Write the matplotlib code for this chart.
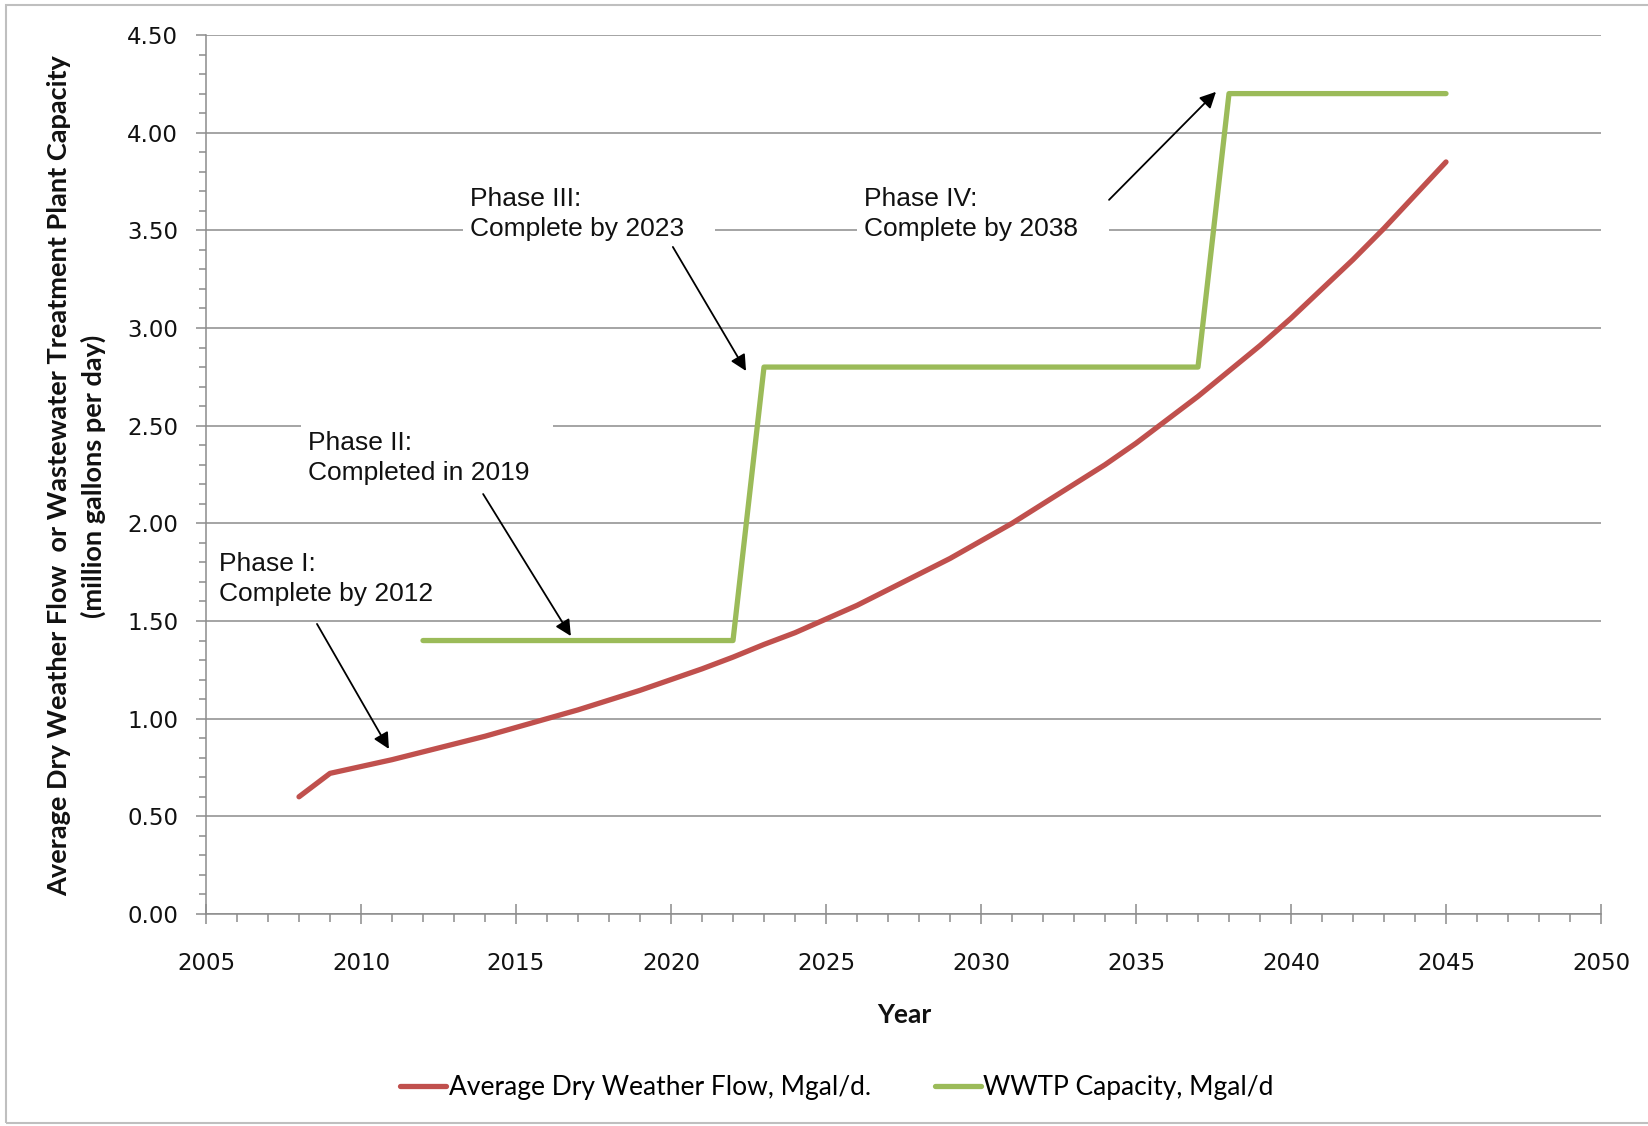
import matplotlib
matplotlib.use("Agg")
import matplotlib.pyplot as plt
from matplotlib.patches import Rectangle
from matplotlib.ticker import MultipleLocator, FormatStrFormatter

# average dry weather flow, one value per year (Mgal/d)
flow_years = list(range(2008, 2046))
flow_values = [0.60, 0.72, 0.755, 0.79, 0.83, 0.87, 0.91, 0.955, 1.00, 1.045,
               1.095, 1.145, 1.20, 1.255, 1.315, 1.38, 1.44, 1.51, 1.58, 1.66,
               1.74, 1.82, 1.91, 2.00, 2.10, 2.20, 2.30, 2.41, 2.53, 2.65,
               2.78, 2.91, 3.05, 3.20, 3.35, 3.51, 3.68, 3.85]

# plant capacity steps
cap_years = [2012, 2022, 2023, 2037, 2038, 2045]
cap_values = [1.40, 1.40, 2.80, 2.80, 4.20, 4.20]

phase_labels = ["Phase I:\nComplete by 2012",
                "Phase II:\nCompleted in 2019",
                "Phase III:\nComplete by 2023",
                "Phase IV:\nComplete by 2038"]
label_xy = [(2005.42, 1.715), (2008.29, 2.335), (2013.52, 3.584), (2026.23, 3.584)]
arrow_from = [(2008.58, 1.485), (2013.94, 2.15), (2020.06, 3.415), (2034.13, 3.656)]
arrow_to = [(2010.9, 0.845), (2016.77, 1.423), (2022.42, 2.78), (2037.58, 4.209)]

RED = "#C0504D"
GREEN = "#9BBB59"
GRID = "#8C8C8C"

W, H = 1648, 1126
fig = plt.figure(figsize=(W / 100, H / 100), dpi=100)
ax = fig.add_axes([206 / W, 1 - 914 / H, (1601 - 206) / W, (914 - 35) / H])

ax.plot(flow_years, flow_values, color=RED, lw=3.8, solid_capstyle="round",
        solid_joinstyle="round", label="Average Dry Weather Flow, Mgal/d.", zorder=3)
ax.plot(cap_years, cap_values, color=GREEN, lw=3.8, solid_capstyle="round",
        label="WWTP Capacity, Mgal/d", zorder=3)

ax.set_xlim(2005, 2050)
ax.set_ylim(0, 4.5)
ax.xaxis.set_major_locator(MultipleLocator(5))
ax.xaxis.set_minor_locator(MultipleLocator(1))
ax.yaxis.set_major_locator(MultipleLocator(0.5))
ax.yaxis.set_minor_locator(MultipleLocator(0.1))
ax.yaxis.set_major_formatter(FormatStrFormatter("%.2f"))

ax.set_axisbelow(True)
ax.grid(axis="y", which="major", color=GRID, lw=1.1)
for s in ["top", "right"]:
    ax.spines[s].set_visible(False)
for s in ["left", "bottom"]:
    ax.spines[s].set_color(GRID)
    ax.spines[s].set_linewidth(1.1)

ax.tick_params(axis="x", which="major", direction="inout", length=14, width=1.1,
               color=GRID, pad=20, labelsize=16.5, labelcolor="#111111")
ax.tick_params(axis="x", which="minor", direction="out", length=5.5, width=1.1, color=GRID)
ax.tick_params(axis="y", which="major", direction="out", length=7, width=1.1,
               color=GRID, pad=13, labelsize=16.5, labelcolor="#111111")
ax.tick_params(axis="y", which="minor", direction="out", length=5, width=1.1, color=GRID)

# white label boxes that break the gridlines, like the original text boxes
box_w = 252 / 31.0
box_h = 80 / 195.3
for (tx, ty) in label_xy:
    ax.add_patch(Rectangle((tx - 7 / 31.0, ty - box_h / 2), box_w, box_h,
                           facecolor="white", edgecolor="none", zorder=1))

for txt, (tx, ty) in zip(phase_labels, label_xy):
    ax.text(tx, ty, txt, ha="left", va="center", fontsize=19,
            family="Liberation Sans", color="#111111", linespacing=1.35, zorder=4)

for p0, p1 in zip(arrow_from, arrow_to):
    ax.annotate("", xy=p1, xytext=p0,
                arrowprops=dict(arrowstyle="-|>", color="black", lw=1.3,
                                mutation_scale=24, shrinkA=0, shrinkB=0),
                zorder=5)

fig.text(77 / W, 1 - 476 / H,
         "Average Dry Weather Flow  or Wastewater Treatment Plant Capacity\n(million gallons per day)",
         rotation=90, ha="center", va="center", multialignment="center",
         family="Lato", weight="bold", fontsize=19.5, color="#111111", linespacing=1.45)
fig.text(904 / W, 1 - 1015 / H, "Year", ha="center", va="center",
         family="Lato", weight="bold", fontsize=19, color="#111111")

fig.legend(loc="center", bbox_to_anchor=(837 / W, 1 - 1088 / H), ncol=2, frameon=False,
           prop={"family": "Lato", "size": 19}, handlelength=1.75, handletextpad=0.1,
           columnspacing=2.4)

fig.patches.append(Rectangle((6 / W, 3 / H), 1.2, 1 - 8 / H, transform=fig.transFigure,
                             fill=False, edgecolor="#BFBFBF", lw=1.5))

fig.savefig("out.png", dpi=100, facecolor="white")
